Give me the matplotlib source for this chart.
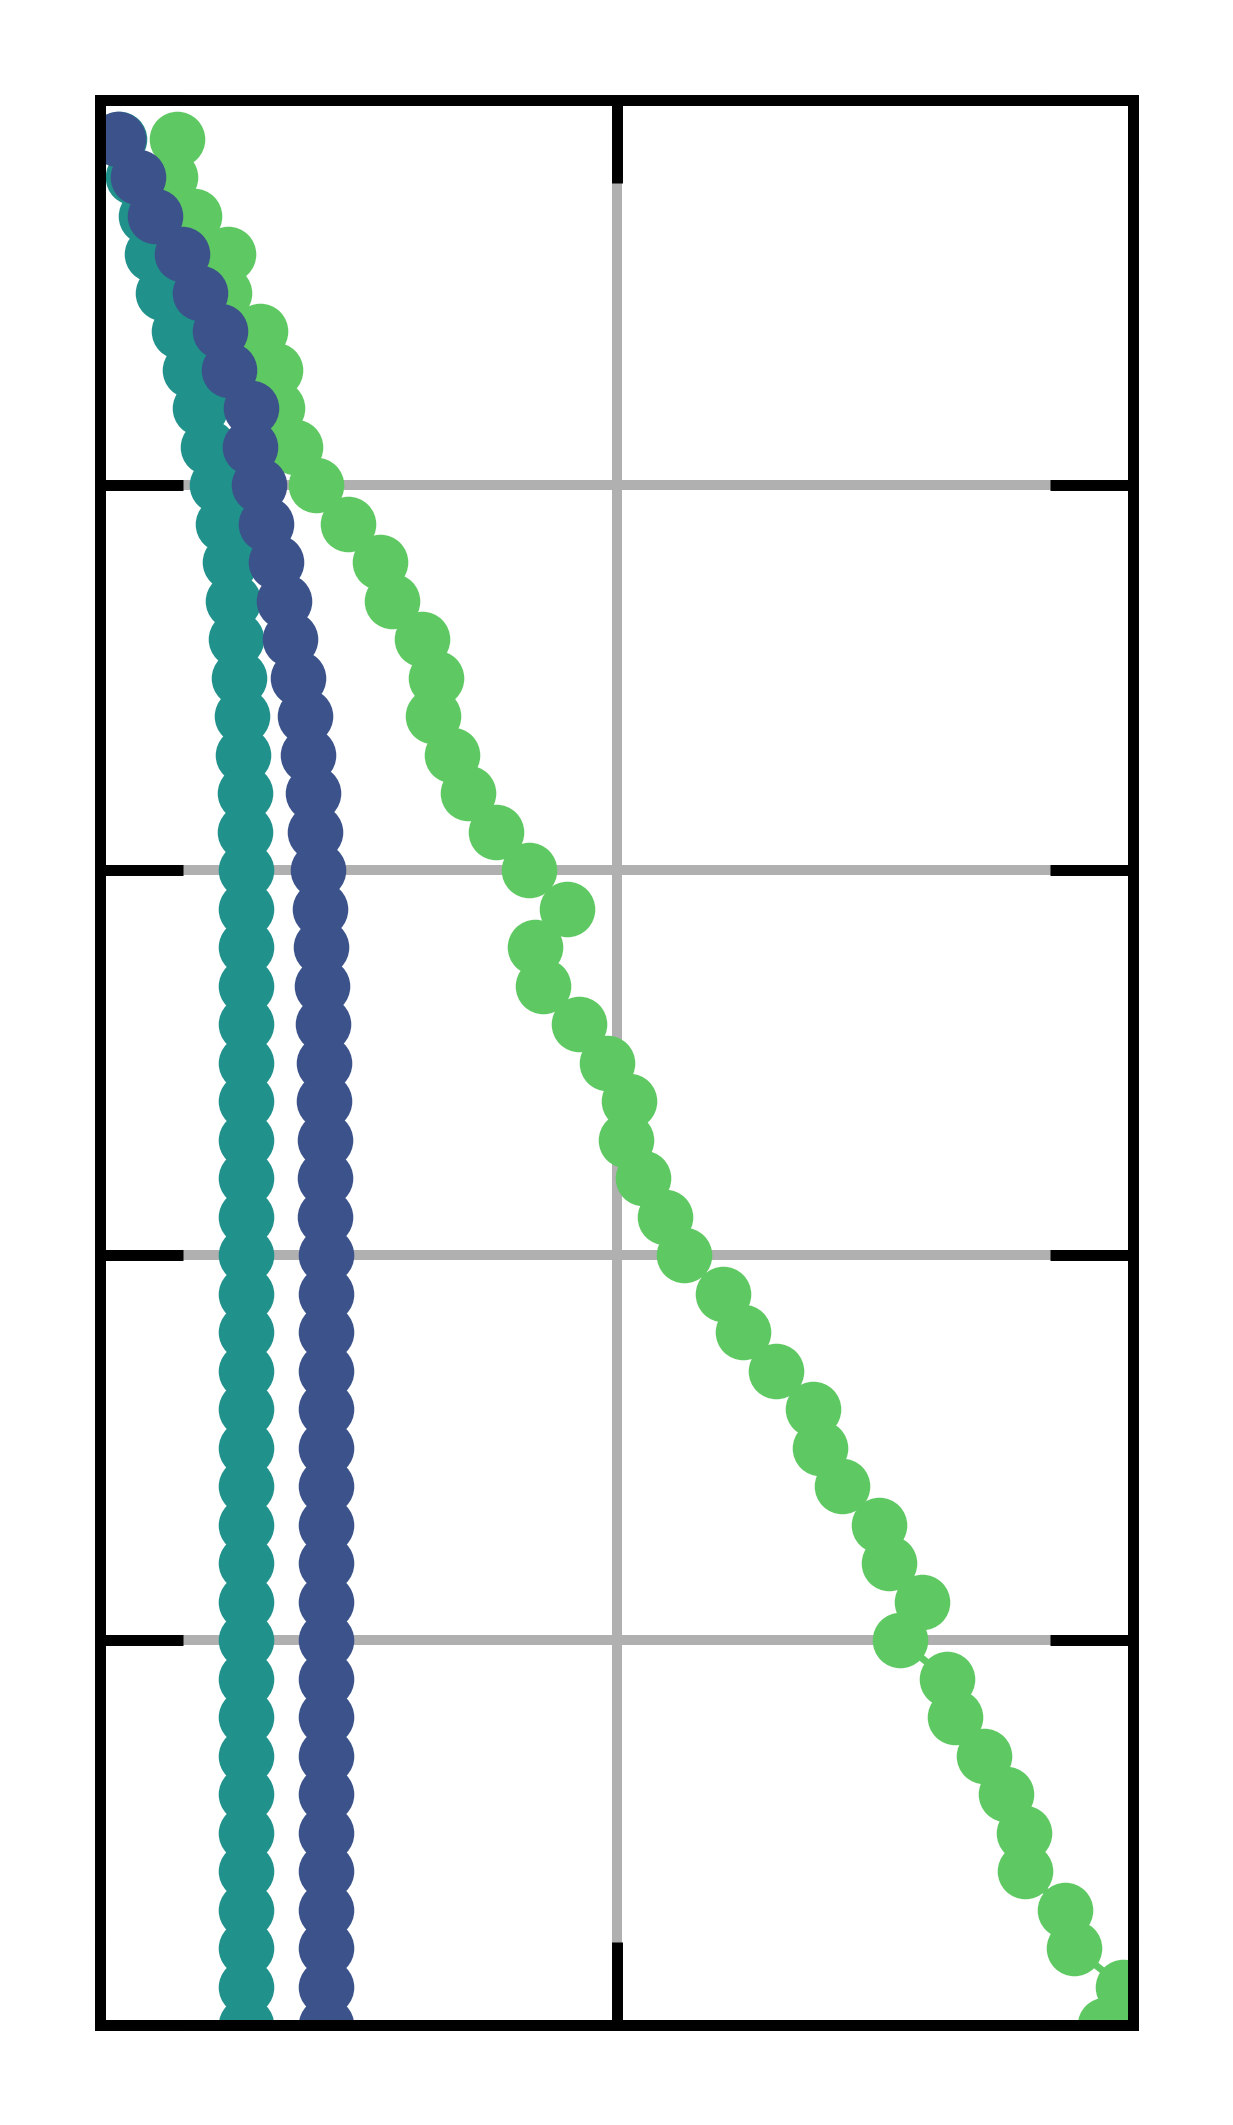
import matplotlib.pyplot as plt

# layer index (depth), plotted downward
layers = list(range(1, 51))

# profiles, as fraction of the x range
green_profile = [
    0.075, 0.068, 0.091, 0.124, 0.120, 0.155, 0.169, 0.171, 0.189, 0.209,
    0.240, 0.271, 0.283, 0.312, 0.325, 0.322, 0.341, 0.356, 0.383, 0.415,
    0.452, 0.421, 0.429, 0.464, 0.491, 0.512, 0.509, 0.526, 0.547, 0.565,
    0.603, 0.622, 0.654, 0.690, 0.697, 0.718, 0.754, 0.764, 0.796, 0.774,
    0.820, 0.828, 0.856, 0.877, 0.894, 0.895, 0.934, 0.943, 0.990, 0.973,
]
teal_profile = [
    0.018, 0.032, 0.045, 0.050, 0.061, 0.076, 0.087, 0.097, 0.105, 0.113,
    0.119, 0.126, 0.129, 0.132, 0.135, 0.137, 0.138, 0.140, 0.140, 0.141,
    0.1412, 0.1414, 0.1415, 0.1416, 0.1417, 0.1417, 0.1418, 0.1418, 0.1418, 0.1418,
    0.1418, 0.1418, 0.1418, 0.1418, 0.1418, 0.1418, 0.1418, 0.1418, 0.1418, 0.1418,
    0.1418, 0.1418, 0.1418, 0.1418, 0.1418, 0.1418, 0.1418, 0.1418, 0.1418, 0.1418,
]
blue_profile = [
    0.017, 0.037, 0.053, 0.079, 0.097, 0.116, 0.125, 0.146, 0.145, 0.154,
    0.161, 0.170, 0.178, 0.184, 0.192, 0.198, 0.201, 0.206, 0.208, 0.211,
    0.213, 0.214, 0.215, 0.216, 0.217, 0.217, 0.2175, 0.2178, 0.2181, 0.2185,
    0.2186, 0.2186, 0.2186, 0.2186, 0.2186, 0.2186, 0.2186, 0.2186, 0.2186, 0.2186,
    0.2186, 0.2186, 0.2186, 0.2186, 0.2186, 0.2186, 0.2186, 0.2186, 0.2186, 0.2186,
]

series = [
    (green_profile, "#5ec962"),
    (teal_profile, "#21918c"),
    (blue_profile, "#3b528b"),
]

fig, ax = plt.subplots(figsize=(12.33, 21.25), dpi=100, facecolor="white")
fig.subplots_adjust(left=100 / 1233, right=1133 / 1233, bottom=100 / 2125, top=1 - 100 / 2125)

for values, color in series:
    ax.plot(values, layers, color=color, linewidth=5, marker="o",
            markersize=40, markeredgewidth=0, zorder=3)

ax.set_xlim(0, 1)
ax.set_ylim(50, 0)
ax.set_xticks([0, 0.5, 1])
ax.set_yticks(range(0, 51, 10))
ax.set_xticklabels([])
ax.set_yticklabels([])

ax.grid(color="#b0b0b0", linewidth=7.2, zorder=0)
ax.set_axisbelow(True)
ax.tick_params(direction="in", length=60, width=7.9, color="black",
               top=True, right=True, bottom=True, left=True)
for spine in ax.spines.values():
    spine.set_linewidth(7.9)
    spine.set_color("black")
    spine.set_zorder(5)

plt.savefig("out.png", dpi=100, facecolor="white")
